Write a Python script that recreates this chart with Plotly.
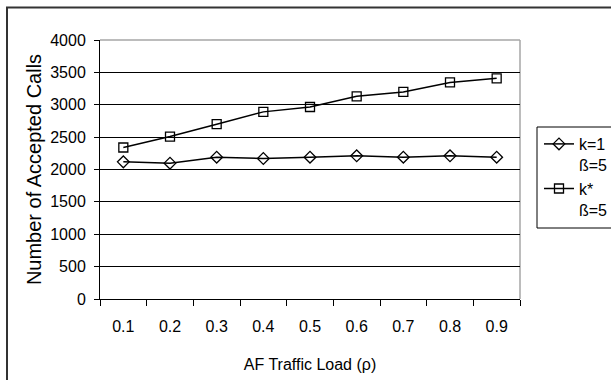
import plotly.graph_objects as go

categories = ["0.1", "0.2", "0.3", "0.4", "0.5", "0.6", "0.7", "0.8", "0.9"]
k1_values = [2118, 2098, 2190, 2170, 2190, 2211, 2190, 2211, 2190]
kstar_values = [2340, 2509, 2700, 2890, 2965, 3130, 3198, 3345, 3408]
series_names = ["k=1<br>ß=5", "k*<br>ß=5"]
y_ticks = [0, 500, 1000, 1500, 2000, 2500, 3000, 3500, 4000]

FONT = "Liberation Sans, Arial, sans-serif"

fig = go.Figure()
fig.add_trace(go.Scatter(
    x=categories, y=k1_values, name=series_names[0], mode="lines+markers",
    line=dict(color="black", width=1.5),
    marker=dict(symbol="diamond-open", size=9, color="black", line=dict(width=1.3)),
))
fig.add_trace(go.Scatter(
    x=categories, y=kstar_values, name=series_names[1], mode="lines+markers",
    line=dict(color="black", width=1.5),
    marker=dict(symbol="square-open", size=9, color="black", line=dict(width=1.3)),
))

L, R, T, B = 100, 91, 40, 81
W, H = 611, 380
pw = W - L - R
ph = H - T - B

def px_x(px):
    return (px - L) / pw

def px_y(py):
    return (H - B - py) / ph

fig.update_layout(
    width=W, height=H,
    margin=dict(l=L, r=R, t=T, b=B, pad=0, autoexpand=False),
    paper_bgcolor="white", plot_bgcolor="white",
    font=dict(family=FONT, size=16, color="black"),
    showlegend=True,
    legend=dict(
        x=px_x(539), y=px_y(127), xanchor="left", yanchor="top",
        borderwidth=0, bgcolor="rgba(0,0,0,0)",
        font=dict(family=FONT, size=16, color="black"),
        valign="top", tracegroupgap=0,
    ),
    xaxis=dict(
        type="category", range=[-0.5, 8.5], tickson="boundaries",
        ticks="outside", ticklen=6, tickcolor="black", tickwidth=1,
        showline=True, linecolor="black", linewidth=1,
        showgrid=False, zeroline=False,
        ticklabelstandoff=13,
        tickfont=dict(family=FONT, size=16, color="black"),
        title=dict(text="AF Traffic Load (ρ)", standoff=24,
                   font=dict(family=FONT, size=16, color="black")),
        fixedrange=True,
    ),
    yaxis=dict(
        range=[0, 4000], tickvals=y_ticks,
        ticks="outside", ticklen=5, tickcolor="black", tickwidth=1,
        showline=True, linecolor="black", linewidth=1,
        showgrid=True, gridcolor="black", gridwidth=1,
        zeroline=False,
        ticklabelstandoff=5,
        tickfont=dict(family=FONT, size=16, color="black"),
        title=dict(text="Number of Accepted Calls", standoff=3,
                   font=dict(family=FONT, size=20, color="black")),
        fixedrange=True,
    ),
    shapes=[
        # gray top and right plot borders
        dict(type="line", xref="paper", yref="paper", x0=0, x1=1, y0=1, y1=1,
             line=dict(color="#a6a6a6", width=1.5), layer="below"),
        dict(type="line", xref="paper", yref="paper", x0=1, x1=1, y0=0, y1=1,
             line=dict(color="#a6a6a6", width=1.5), layer="below"),
        # legend frame (runs past the cropped right edge, as in the reference)
        dict(type="rect", xref="paper", yref="paper",
             x0=px_x(537), x1=px_x(650), y0=px_y(228), y1=px_y(127),
             line=dict(color="black", width=1), fillcolor="rgba(0,0,0,0)"),
        # outer chart frame (cropped at right and bottom)
        dict(type="rect", xref="paper", yref="paper",
             x0=px_x(7), x1=px_x(640), y0=px_y(400), y1=px_y(7.5),
             line=dict(color="#333333", width=2), fillcolor="rgba(0,0,0,0)"),
    ],
)

fig.write_html("out.html", config={"displayModeBar": False})
